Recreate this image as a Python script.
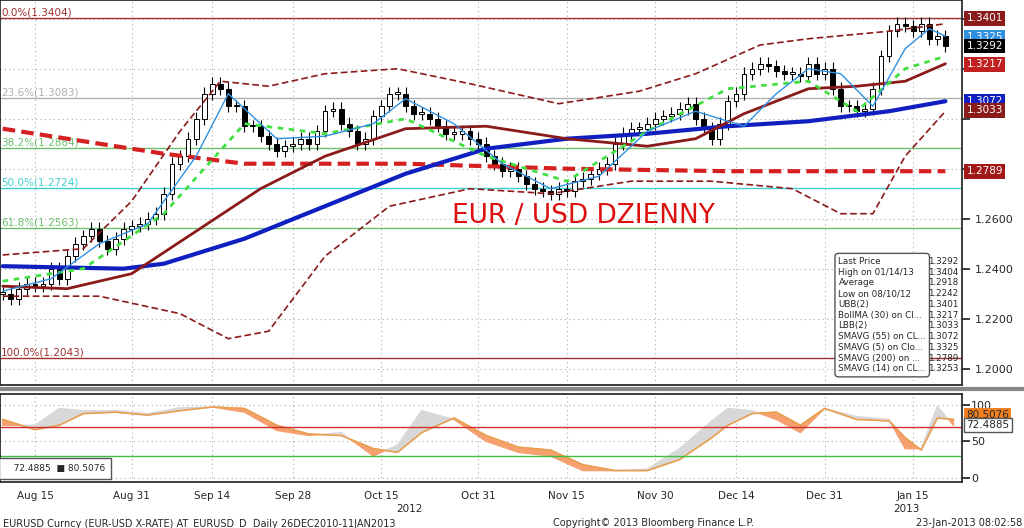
import numpy as np, pandas as pd, seaborn as sns, matplotlib
matplotlib.use("Agg")
import matplotlib.pyplot as plt
from matplotlib.transforms import blended_transform_factory as btf

closes = [1.230,1.228,1.232,1.234,1.233,
 1.234,1.240,1.236,1.245,1.250,1.253,1.256,1.251,1.248,1.252,1.256,1.257,
 1.258,1.260,1.262,1.270,1.282,1.285,1.292,1.300,1.310,1.314,
 1.312,1.305,1.305,1.297,1.297,1.293,1.290,1.287,1.289,1.290,
 1.292,1.290,1.295,1.303,1.304,1.298,1.295,1.290,1.292,1.301,1.305,
 1.310,1.310,1.305,1.302,1.302,1.300,1.297,1.294,1.294,1.295,1.292,1.290,
 1.285,1.282,1.279,1.280,1.277,1.274,1.272,1.271,1.270,1.272,1.271,
 1.275,1.276,1.278,1.280,1.282,1.290,1.294,1.296,1.296,1.298,1.300,
 1.301,1.302,1.304,1.306,1.300,1.296,1.292,1.298,1.307,1.310,
 1.318,1.320,1.322,1.321,1.319,1.318,1.318,1.317,1.322,1.318,1.320,
 1.312,1.305,1.305,1.303,1.304,1.312,1.325,1.335,1.338,1.337,1.335,1.338,1.332,1.333,1.329]
wick = 0.0025
tick_labels = ["Aug 15","Aug 31","Sep 14","Sep 28","Oct 15","Oct 31","Nov 15","Nov 30","Dec 14","Dec 31","Jan 15"]
tick_dates = ["2012-08-15","2012-08-31","2012-09-14","2012-09-28","2012-10-15","2012-10-31","2012-11-15","2012-11-30","2012-12-14","2012-12-31","2013-01-15"]

sma200_x=[0,20,30,50,70,90,117]; sma200=[1.296,1.286,1.282,1.282,1.280,1.279,1.279]
sma55_x=[0,15,20,30,40,50,60,70,80,90,100,110,117]; sma55=[1.241,1.240,1.242,1.252,1.265,1.278,1.288,1.292,1.294,1.297,1.299,1.303,1.307]
boll_x=[0,8,16,24,32,40,50,60,70,80,86,92,100,106,112,117]; boll=[1.233,1.232,1.238,1.255,1.272,1.285,1.296,1.297,1.292,1.289,1.292,1.302,1.312,1.313,1.315,1.322]
ubb_x=[0,10,16,22,27,33,40,49,58,69,79,86,94,100,110,117]; ubb=[1.2455,1.248,1.267,1.295,1.315,1.313,1.318,1.320,1.314,1.306,1.311,1.318,1.3295,1.332,1.335,1.338]
lbb_x=[0,12,22,28,33,40,48,58,68,78,88,98,104,108,112,117]; lbb=[1.229,1.229,1.222,1.212,1.215,1.245,1.265,1.272,1.270,1.275,1.275,1.272,1.262,1.262,1.285,1.303]
sma14_x=[0,10,20,30,40,50,60,70,80,90,100,106,112,117]; sma14=[1.235,1.240,1.262,1.298,1.294,1.300,1.285,1.275,1.295,1.312,1.315,1.303,1.320,1.325]
sma5_x=[0,6,12,18,24,28,34,40,46,50,56,62,68,74,80,86,92,96,100,104,108,112,115,117]
sma5=[1.231,1.236,1.250,1.258,1.285,1.310,1.292,1.293,1.298,1.308,1.298,1.282,1.272,1.277,1.295,1.303,1.297,1.310,1.320,1.318,1.305,1.328,1.336,1.333]
osc_x=[0,4,7,10,14,18,22,26,30,34,38,42,46,49,52,56,60,64,68,72,76,80,84,88,90,93,96,99,102,106,110,112,114,116,118]
osc_o=[80,66,72,88,90,86,92,97,95,72,60,58,40,35,62,82,58,42,38,18,10,10,25,55,72,88,90,72,95,80,78,55,38,82,80]
osc_g=[72,72,95,92,92,88,96,97,90,65,58,62,30,45,92,80,50,35,30,10,10,12,40,78,95,92,80,62,95,84,80,40,40,98,72]
fib_vals=[1.3404,1.3083,1.2884,1.2724,1.2563,1.2043]
fib_txt=["0.0%(1.3404)","23.6%(1.3083)","38.2%(1.2884)","50.0%(1.2724)","61.8%(1.2563)","100.0%(1.2043)"]
fib_col=["#a03030","#b0b0b0","#70c070","#40d0d0","#70c070","#a03030"]
leg_names=["Last Price","High on 01/14/13","Average","Low on 08/10/12","UBB(2)","BollMA (30) on Cl...","LBB(2)","SMAVG (55) on CL...","SMAVG (5) on Clo...","SMAVG (200) on ...","SMAVG (14) on CL..."]
leg_vals=["1.3292","1.3404","1.2918","1.2242","1.3401","1.3217","1.3033","1.3072","1.3325","1.2789","1.3253"]

sns.set_theme(style="white")
plt.rcParams['font.family']=['DejaVu Sans']
fig=plt.figure(figsize=(10.24,5.28),dpi=100)
ax=fig.add_axes([0.0,0.271,0.939,0.729])
ax2=fig.add_axes([0.0,0.088,0.939,0.166],sharex=ax)
dates=pd.bdate_range("2012-08-09",periods=len(closes))
idx=np.arange(len(closes))
c=np.array(closes); o=np.r_[c[0],c[:-1]]
up=c>=o
body=np.maximum(np.abs(c-o),0.0006)
ax.vlines(idx,np.minimum(o,c)-wick,np.maximum(o,c)+wick,color="black",lw=0.8,zorder=3)
ax.bar(idx[up],body[up],bottom=np.minimum(o,c)[up],width=0.6,color="white",edgecolor="black",lw=0.7,zorder=4)
ax.bar(idx[~up],body[~up],bottom=np.minimum(o,c)[~up],width=0.6,color="black",edgecolor="black",lw=0.7,zorder=4)
for v,t,col in zip(fib_vals,fib_txt,fib_col):
    ax.axhline(v,color=col,lw=1,zorder=1)
    ax.text(-0.2,v+0.0008,t,color=col,fontsize=7.5,zorder=2)
sns.lineplot(x=sma200_x,y=sma200,ax=ax,color="#d42020",lw=3,linestyle=(0,(3,1.5)),zorder=5)
sns.lineplot(x=sma55_x,y=sma55,ax=ax,color="#1020c0",lw=3,zorder=5)
sns.lineplot(x=boll_x,y=boll,ax=ax,color="#8b1a1a",lw=2,zorder=5)
sns.lineplot(x=ubb_x,y=ubb,ax=ax,color="#8b1a1a",lw=1.2,linestyle=(0,(4,2)),zorder=5)
sns.lineplot(x=lbb_x,y=lbb,ax=ax,color="#8b1a1a",lw=1.2,linestyle=(0,(4,2)),zorder=5)
sns.lineplot(x=sma14_x,y=sma14,ax=ax,color="#40e040",lw=2,linestyle=(0,(2,2)),zorder=5)
sns.lineplot(x=sma5_x,y=sma5,ax=ax,color="#3090e0",lw=1,zorder=5)
ax.set_ylim(1.1935,1.3475); ax.set_xlim(-0.34,119)
ax.yaxis.tick_right()
yt=np.arange(1.20,1.341,0.02)
ax.set_yticks(yt); ax.set_yticklabels([f"{v:.4f}" if v<1.27 else "" for v in yt],fontsize=8)
ax.grid(True,color="#aaaaaa",ls=(0,(1,3)),lw=0.8)
ax.tick_params(axis="x",labelbottom=False)
ax.text(0.47,0.42,"EUR / USD DZIENNY",transform=ax.transAxes,color="#dd1010",fontsize=19,ha="left")
tr=btf(ax.transAxes,ax.transData)
for v,t,fc in [(1.3401,"1.3401","#8b1a1a"),(1.3325,"1.3325","#3090e0"),(1.3292,"1.3292","black"),(1.3217,"1.3217","#c02020"),(1.3072,"1.3072","#1020c0"),(1.3033,"1.3033","#8b1a1a"),(1.2789,"1.2789","#a01818")]:
    ax.text(1.005,v,t,transform=tr,fontsize=7.5,color="white",va="center",bbox=dict(boxstyle="square,pad=0.2",fc=fc,ec="none"),zorder=10,clip_on=False)
lt="\n".join(leg_names); lv="\n".join(leg_vals)
ax.text(0.872,0.03,lt,transform=ax.transAxes,fontsize=6.3,va="bottom",linespacing=1.25,zorder=11,
        bbox=dict(boxstyle="round,pad=0.4",fc="white",ec="#555555"))
ax.text(0.997,0.03,lv,transform=ax.transAxes,fontsize=6.3,va="bottom",ha="right",linespacing=1.25,zorder=12)

ox=np.array(osc_x); oo=np.array(osc_o); og=np.array(osc_g)
ax2.fill_between(ox,oo,og,where=og>=oo,color="#d8d8d8",interpolate=True)
ax2.fill_between(ox,oo,og,where=og<oo,color="#f6a070",interpolate=True)
sns.lineplot(x=osc_x,y=osc_o,ax=ax2,color="#e8a050",lw=1.2)
ax2.axhline(70,color="#d03030",lw=1); ax2.axhline(30,color="#40c040",lw=1)
ax2.set_ylim(-5,115); ax2.yaxis.tick_right(); ax2.set_yticks([0,50,100]); ax2.tick_params(labelsize=8,pad=1)
ax2.grid(True,color="#aaaaaa",ls=(0,(1,3)),lw=0.8)
tpos=[dates.get_loc(pd.Timestamp(d)) for d in tick_dates]
ax2.set_xticks(tpos); ax2.set_xticklabels(tick_labels,fontsize=7.5)
tr2=btf(ax2.transAxes,ax2.transData)
ax2.text(1.005,72.49,"72.4885",transform=tr2,fontsize=7.5,va="center",bbox=dict(boxstyle="square,pad=0.2",fc="white",ec="#555555"),clip_on=False,zorder=5)
ax2.text(1.005,86,"80.5076",transform=tr2,fontsize=7.5,va="center",bbox=dict(boxstyle="square,pad=0.2",fc="#f08020",ec="none"),clip_on=False,zorder=4)
ax2.text(0.005,0.12,"   72.4885  \u25A0 80.5076",transform=ax2.transAxes,fontsize=6.5,bbox=dict(fc="white",ec="#555555"))
fig.text(0.40,0.036,"2012",fontsize=7.5,ha="center",va="center"); fig.text(0.885,0.036,"2013",fontsize=7.5,ha="center",va="center")
fig.text(0.003,0.003,"EURUSD Curncy (EUR-USD X-RATE) AT_EURUSD_D  Daily 26DEC2010-11JAN2013",fontsize=7)
fig.text(0.54,0.003,"Copyright\u00a9 2013 Bloomberg Finance L.P.",fontsize=7)
fig.text(0.998,0.003,"23-Jan-2013 08:02:58",fontsize=7,ha="right")
fig.add_artist(plt.Line2D([0,1],[0.263,0.263],color="#888888",lw=3))
fig.savefig("out.png",dpi=100)
